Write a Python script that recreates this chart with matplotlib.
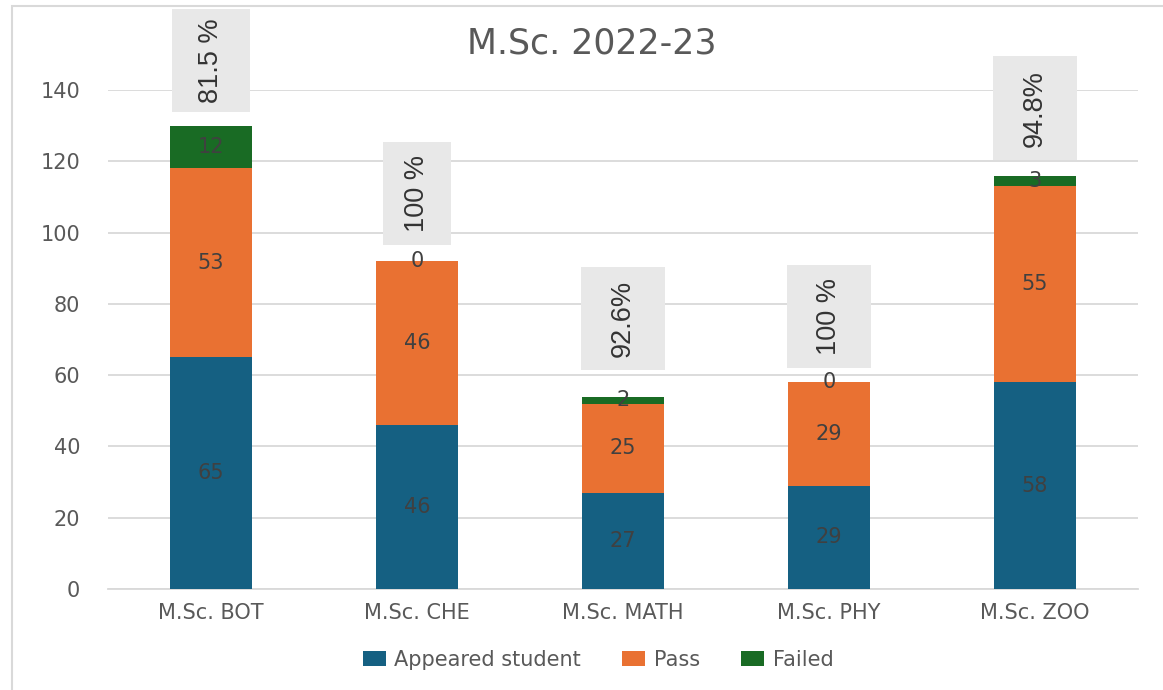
import matplotlib
matplotlib.use("Agg")
import matplotlib.pyplot as plt
from matplotlib.patches import Rectangle
import numpy as np

# Programme-wise results
categories = ["M.Sc. BOT", "M.Sc. CHE", "M.Sc. MATH", "M.Sc. PHY", "M.Sc. ZOO"]
appeared = [65, 46, 27, 29, 58]
passed = [53, 46, 25, 29, 55]
failed = [12, 0, 2, 0, 3]
pass_pct_labels = ["81.5 %", "100 %", "92.6%", "100 %", "94.8%"]

series_names = ["Appeared student", "Pass", "Failed"]
series_colors = ["#156082", "#E97132", "#196B24"]

# Callout box styling (width in category units, gap/height in data units)
box_widths = [0.38, 0.33, 0.41, 0.41, 0.41]
box_gaps = [3.8, 4.5, 7.4, 4.0, 4.4]
box_height = 29

W, H = 1163, 690
fig = plt.figure(figsize=(W / 100, H / 100), dpi=100)
fig.patch.set_facecolor("white")

ax = fig.add_axes([108 / W, 1 - 589 / H, (1138 - 108) / W, (589 - 90) / H])
ax.set_facecolor("white")

x = np.arange(len(categories))
bar_w = 0.4
bottom = np.zeros(len(categories))
handles = []
for vals, name, col in zip([appeared, passed, failed], series_names, series_colors):
    bars = ax.bar(x, vals, bar_w, bottom=bottom, color=col, label=name, zorder=3)
    ax.bar_label(bars, labels=[str(v) for v in vals], label_type="center",
                 color="#404040", fontsize=15, zorder=4)
    handles.append(bars)
    bottom = bottom + np.array(vals)

totals = bottom

# Pass-percentage callouts above each stack
for xi, tot, lab, bw, gap in zip(x, totals, pass_pct_labels, box_widths, box_gaps):
    y0 = tot + gap
    ax.add_patch(Rectangle((xi - bw / 2, y0), bw, box_height, facecolor="#E8E8E8",
                           edgecolor="none", zorder=5, clip_on=False))
    ax.text(xi, y0 + box_height / 2, lab, rotation=90, ha="center", va="center",
            fontsize=19.5, color="#333333", zorder=6, clip_on=False,
            family="Liberation Sans")

ax.set_xlim(-0.5, len(categories) - 0.5)
ax.set_ylim(0, 140)
ax.set_yticks(np.arange(0, 141, 20))
ax.set_xticks(x)
ax.set_xticklabels(categories)
ax.tick_params(axis="both", length=0, colors="#595959", labelsize=15)
ax.tick_params(axis="x", pad=10)
ax.tick_params(axis="y", pad=20)
ax.grid(axis="y", color="#D9D9D9", linewidth=1.3, zorder=0)
ax.set_axisbelow(True)
for side in ["top", "right", "left"]:
    ax.spines[side].set_visible(False)
ax.spines["bottom"].set_color("#D9D9D9")
ax.spines["bottom"].set_linewidth(1.3)

fig.text(592 / W, 1 - 43 / H, "M.Sc. 2022-23", ha="center", va="center",
         fontsize=25, color="#595959")

fig.legend(handles=handles, labels=series_names, loc="center",
           bbox_to_anchor=(598 / W, 1 - 660 / H), ncol=3, frameon=False,
           fontsize=15, labelcolor="#595959", handlelength=1.1, handleheight=0.7,
           handletextpad=0.4, columnspacing=2.0)

# Chart-area border
fig.add_artist(Rectangle((12 / W, -0.02), 1.1, 1 - 6 / H + 0.02, transform=fig.transFigure,
                         facecolor="none", edgecolor="#D9D9D9", linewidth=1.5))

fig.savefig("out.png", dpi=100, facecolor="white")
